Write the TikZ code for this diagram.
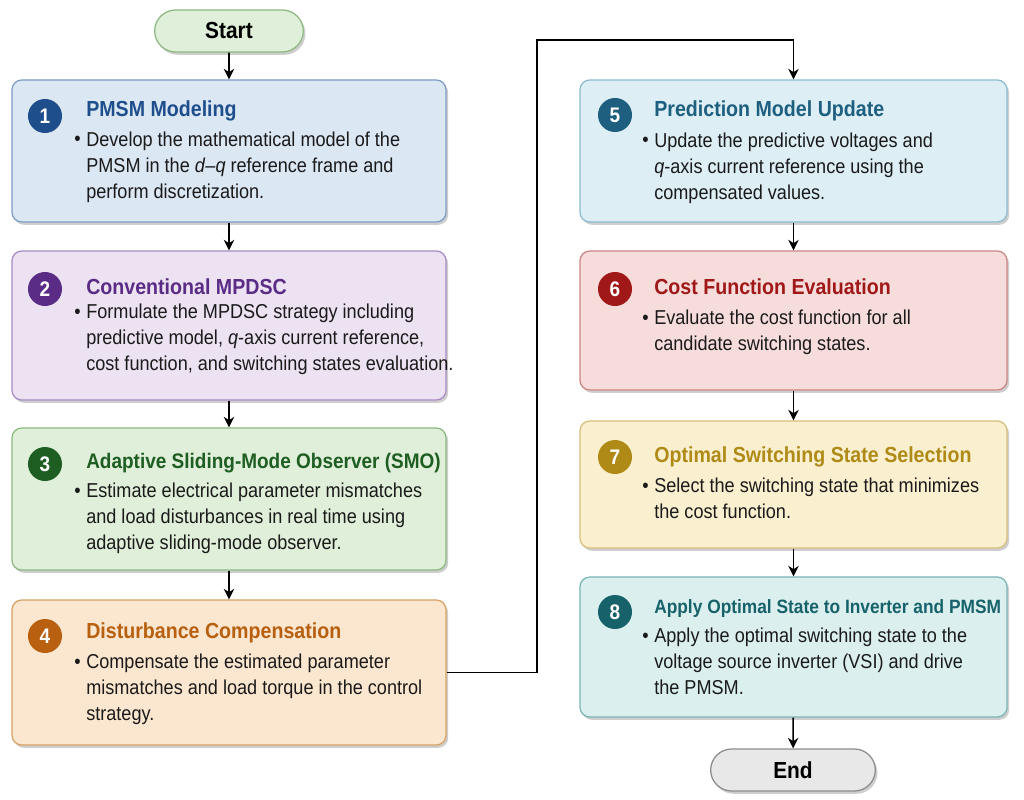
\documentclass[tikz,border=0pt]{standalone}
\usepackage{fontspec}
\setmainfont[FakeStretch=0.9]{Liberation Sans}
\usetikzlibrary{shadows, shapes.misc, arrows.meta, calc}

\definecolor{dk1}{HTML}{1F4E8C}\definecolor{bg1}{HTML}{DCE7F4}\definecolor{ln1}{HTML}{7C9CC4}
\definecolor{dk2}{HTML}{5B2C86}\definecolor{bg2}{HTML}{ECE2F2}\definecolor{ln2}{HTML}{A88BC4}
\definecolor{dk3}{HTML}{1F5E22}\definecolor{bg3}{HTML}{E0EFD9}\definecolor{ln3}{HTML}{8DB882}
\definecolor{dk4}{HTML}{B8600F}\definecolor{bg4}{HTML}{FBE6CF}\definecolor{ln4}{HTML}{D8A264}
\definecolor{dk5}{HTML}{1E5F80}\definecolor{bg5}{HTML}{DDEEF5}\definecolor{ln5}{HTML}{8DBCCF}
\definecolor{dk6}{HTML}{A01818}\definecolor{bg6}{HTML}{F7DCDC}\definecolor{ln6}{HTML}{CC8585}
\definecolor{dk7}{HTML}{B08A17}\definecolor{bg7}{HTML}{FAF0D0}\definecolor{ln7}{HTML}{D6BF7A}
\definecolor{dk8}{HTML}{17626A}\definecolor{bg8}{HTML}{DBEFEF}\definecolor{ln8}{HTML}{7AB5B5}
\definecolor{bodytxt}{HTML}{1A1A1A}

\begin{document}
\begin{tikzpicture}[x=0.025cm, y=-0.025cm,
    stepbox/.style n args={2}{draw=#1, fill=#2, line width=0.9pt, rounded corners=7pt,
        drop shadow={shadow xshift=1.5pt, shadow yshift=-2pt, opacity=0.35, fill=black!55}},
    term/.style n args={2}{rounded rectangle, draw=#1, fill=#2, line width=0.9pt,
        minimum height=1.05cm,
        font=\bfseries\fontsize{16.5}{16.5}\selectfont,
        drop shadow={shadow xshift=1.5pt, shadow yshift=-2pt, opacity=0.35, fill=black!55}},
    numdot/.style={circle, fill=#1, text=white, minimum size=0.85cm, inner sep=0pt,
        font=\bfseries\fontsize{15}{15}\selectfont},
    steptitle/.style={text=#1, anchor=base west, inner sep=0pt,
        font=\bfseries\fontsize{15.5}{18}\selectfont},
    stepbody/.style={text=bodytxt, anchor=north west, inner sep=0pt, align=left,
        font=\fontsize{14.3}{18.5}\selectfont},
    dot/.style={text=bodytxt, anchor=base east, inner sep=0pt,
        font=\fontsize{14.3}{18.5}\selectfont},
    flow/.style={-{Stealth[length=7.5pt, width=7.5pt]}, line width=1.1pt}]

    \useasboundingbox (0,0) rectangle (1024,800);

    % left column
    \node[term={ln3}{bg3}, minimum width=3.95cm] (start) at (229,31) {Start};

    \node[stepbox={ln1}{bg1}, minimum width=10.85cm, minimum height=3.55cm] (s1) at (229,151) {};
    \node[numdot=dk1] (n1) at (45,116) {1};
    \node[steptitle=dk1] (t1) at (86,117) {PMSM Modeling};
    \node[dot] (b1) at (81,146) {\textbullet};
    \node[stepbody] (d1) at (86,128) {\strut Develop the mathematical model of the\\
        PMSM in the \textit{d}–\textit{q} reference frame and\\ perform discretization.};

    \node[stepbox={ln2}{bg2}, minimum width=10.85cm, minimum height=3.725cm] (s2) at (229,325.5) {};
    \node[numdot=dk2] (n2) at (45,289) {2};
    \node[steptitle=dk2] (t2) at (86,294) {Conventional MPDSC};
    \node[dot] (b2) at (81,318) {\textbullet};
    \node[stepbody] (d2) at (86,300) {\strut Formulate the MPDSC strategy including\\
        predictive model, \textit{q}-axis current reference,\\
        cost function, and switching states evaluation.};

    \node[stepbox={ln3}{bg3}, minimum width=10.85cm, minimum height=3.55cm] (s3) at (229,499) {};
    \node[numdot=dk3] (n3) at (45,464) {3};
    \node[steptitle=dk3, font=\bfseries\fontsize{15}{18}\selectfont] (t3) at (86,468) {Adaptive Sliding-Mode Observer (SMO)};
    \node[dot] (b3) at (81,497) {\textbullet};
    \node[stepbody] (d3) at (86,479) {\strut Estimate electrical parameter mismatches\\
        and load disturbances in real time using\\ adaptive sliding-mode observer.};

    \node[stepbox={ln4}{bg4}, minimum width=10.85cm, minimum height=3.625cm] (s4) at (229,672.5) {};
    \node[numdot=dk4] (n4) at (45,636) {4};
    \node[steptitle=dk4] (t4) at (86,638) {Disturbance Compensation};
    \node[dot] (b4) at (81,668) {\textbullet};
    \node[stepbody] (d4) at (86,650) {\strut Compensate the estimated parameter\\
        mismatches and load torque in the control\\ strategy.};

    % right column
    \node[stepbox={ln5}{bg5}, minimum width=10.675cm, minimum height=3.55cm] (s5) at (793.5,151) {};
    \node[numdot=dk5] (n5) at (615,115) {5};
    \node[steptitle=dk5] (t5) at (654,117) {Prediction Model Update};
    \node[dot] (b5) at (649,147) {\textbullet};
    \node[stepbody] (d5) at (654,129) {\strut Update the predictive voltages and\\
        \textit{q}-axis current reference using the\\ compensated values.};

    \node[stepbox={ln6}{bg6}, minimum width=10.675cm, minimum height=3.475cm] (s6) at (793.5,320.5) {};
    \node[numdot=dk6] (n6) at (615,289) {6};
    \node[steptitle=dk6] (t6) at (654,294) {Cost Function Evaluation};
    \node[dot] (b6) at (649,324) {\textbullet};
    \node[stepbody] (d6) at (654,306) {\strut Evaluate the cost function for all\\
        candidate switching states.};

    \node[stepbox={ln7}{bg7}, minimum width=10.675cm, minimum height=3.175cm] (s7) at (793.5,484.5) {};
    \node[numdot=dk7] (n7) at (615,457) {7};
    \node[steptitle=dk7] (t7) at (654,462) {Optimal Switching State Selection};
    \node[dot] (b7) at (649,492) {\textbullet};
    \node[stepbody] (d7) at (654,474) {\strut Select the switching state that minimizes\\
        the cost function.};

    \node[stepbox={ln8}{bg8}, minimum width=10.675cm, minimum height=3.5cm] (s8) at (793.5,647) {};
    \node[numdot=dk8] (n8) at (615,612) {8};
    \node[steptitle=dk8, font=\bfseries\fontsize{13.7}{16}\selectfont] (t8) at (654,613) {Apply Optimal State to Inverter and PMSM};
    \node[dot] (b8) at (649,642) {\textbullet};
    \node[stepbody] (d8) at (654,624) {\strut Apply the optimal switching state to the\\
        voltage source inverter (VSI) and drive\\ the PMSM.};

    \node[term={black!45}{black!9}, minimum width=4.35cm] (end) at (793,770) {End};

    \coordinate (turn) at (537,40);

    \draw[flow] (start) -- (s1);
    \draw[flow] (s1) -- (s2);
    \draw[flow] (s2) -- (s3);
    \draw[flow] (s3) -- (s4);
    \draw[flow] (s4.east) -| (turn) -| (s5.north);
    \draw[flow] (s5) -- (s6);
    \draw[flow] (s6) -- (s7);
    \draw[flow] (s7) -- (s8);
    \draw[flow] (s8) -- (end);
\end{tikzpicture}
\end{document}
